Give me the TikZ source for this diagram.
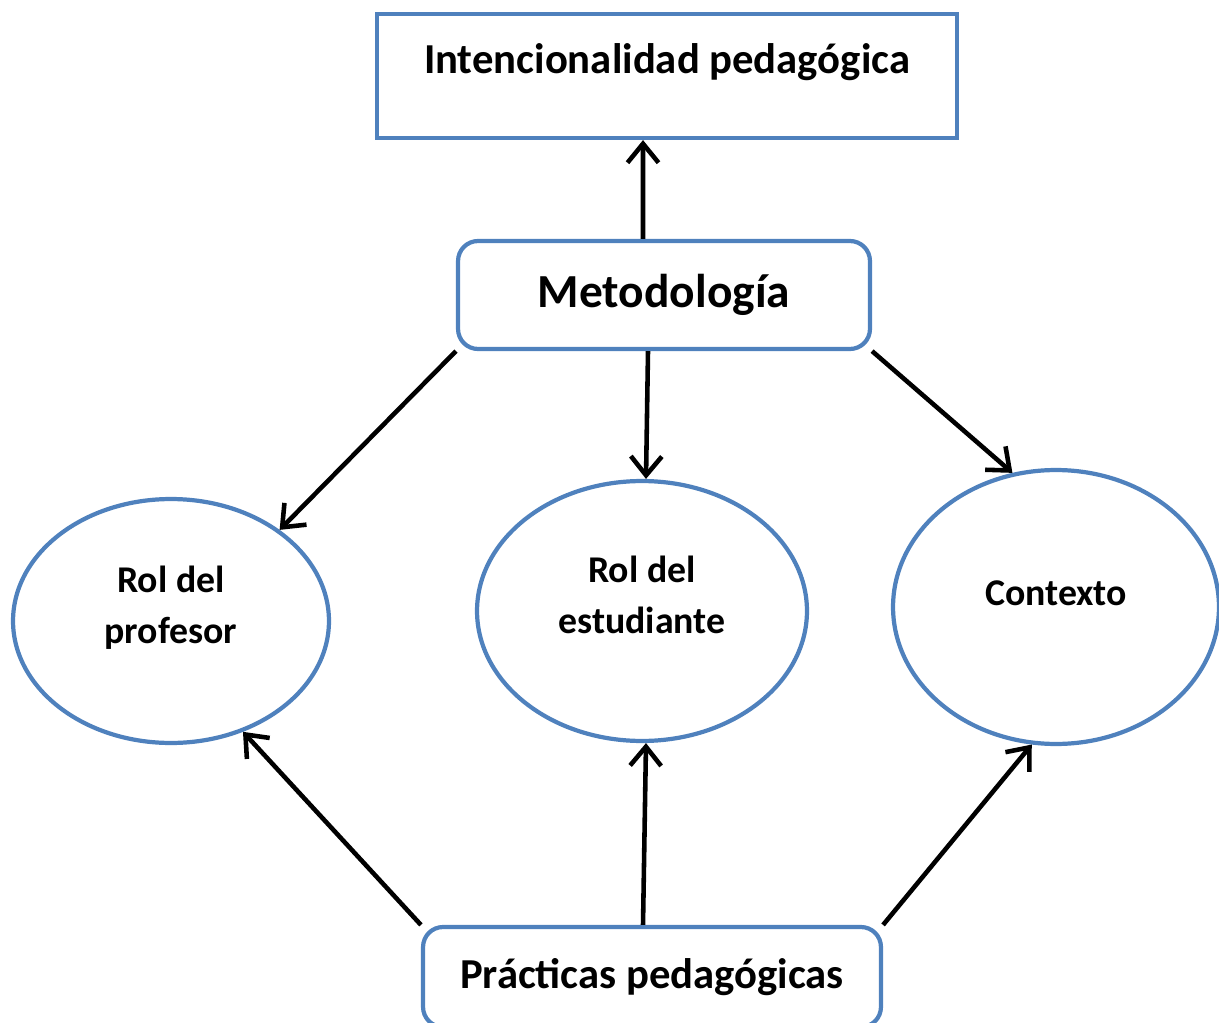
\documentclass[tikz,border=0pt]{standalone}
\usepackage{fontspec}
\setmainfont{Carlito}
\usetikzlibrary{shapes.geometric, arrows.meta}
\definecolor{boxblue}{HTML}{4F81BD}
\tikzstyle{every node}=[font=\bfseries\fontsize{21.5}{29}\selectfont]
\tikzstyle{box} = [rectangle, draw=boxblue, line width=2.4pt, text centered, font=\bfseries\fontsize{24.3}{29}\selectfont]
\tikzstyle{roundbox} = [box, rounded corners=0.4cm]
\tikzstyle{oval} = [ellipse, draw=boxblue, line width=2.4pt, align=center, inner sep=0pt, text depth=0.64cm]
\tikzstyle{line} = [draw, line width=2.6pt, -{Straight Barb[length=0.38cm, width=0.62cm, line width=2.6pt]}]

\begin{document}
\begin{tikzpicture}[x=0.02cm, y=-0.02cm]
    \useasboundingbox (0,0) rectangle (1219,1023);
    % Place nodes
    \node [box, minimum width=11.6cm, minimum height=2.48cm, text height=0.5cm, text depth=0.6cm] (intenc) at (667,76) {Intencionalidad pedagógica};
    \node [roundbox, minimum width=8.24cm, minimum height=2.16cm, font=\bfseries\fontsize{27}{32}\selectfont] (metod) at (664,295) {Metodología};
    \node [oval, minimum width=6.32cm, minimum height=4.88cm] (profesor) at (171,621) {Rol del\\profesor};
    \node [oval, minimum width=6.6cm, minimum height=5.2cm] (estudiante) at (642,611) {Rol del\\estudiante};
    \node [oval, minimum width=6.52cm, minimum height=5.48cm, text depth=0.56cm] (contexto) at (1056,607) {Contexto};
    \node [roundbox, minimum width=9.16cm, minimum height=2.0cm] (practicas) at (652,977) {Prácticas pedagógicas};
    % Draw edges
    \path [line] ([xshift=-0.42cm]metod.north) -- ([xshift=-0.48cm]intenc.south);
    \path [line] (metod.south west) -- (profesor.40);
    \path [line] ([xshift=-0.32cm]metod.south) -- ([xshift=0.08cm]estudiante.north);
    \path [line] (metod.south east) -- (contexto.108);
    \path [line] (practicas.north west) -- (profesor.-57);
    \path [line] ([xshift=-0.18cm]practicas.north) -- ([xshift=0.08cm]estudiante.south);
    \path [line] (practicas.north east) -- (contexto.-100);
\end{tikzpicture}
\end{document}
